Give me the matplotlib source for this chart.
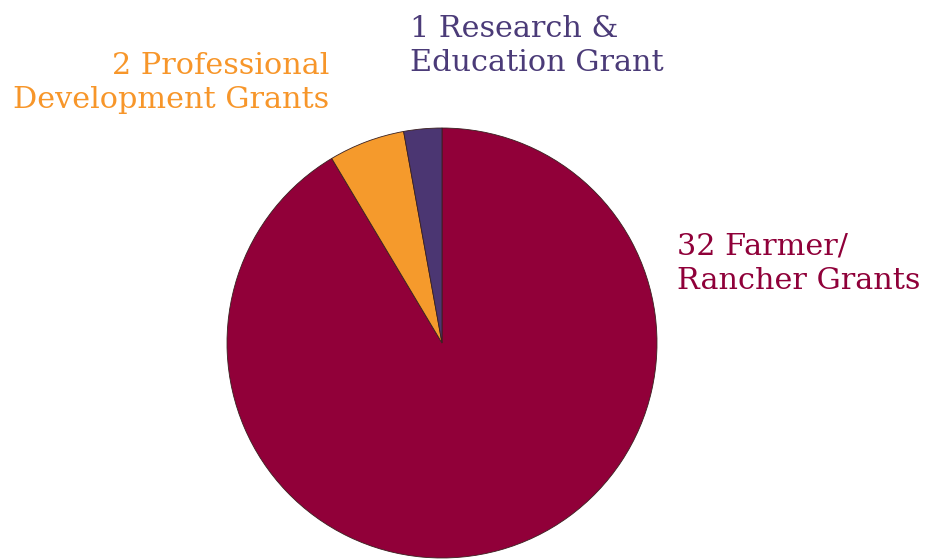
import matplotlib
matplotlib.use('Agg')
import matplotlib.pyplot as plt

labels = ['32 Farmer/\nRancher Grants', '2 Professional\nDevelopment Grants', '1 Research &\nEducation Grant']
counts = [32, 2, 1]
colors = ['#910039', '#F59A2C', '#4B3672']
text_colors = ['#8F0039', '#F7962A', '#4B3B78']

W, H = 935, 559
fig = plt.figure(figsize=(W / 100, H / 100), dpi=100)
ax = fig.add_axes([0, 0, 1, 1])

ax.pie(counts, colors=colors, startangle=90, counterclock=False,
       center=(442, H - 343), radius=215, frame=True,
       wedgeprops=dict(edgecolor='#3a2020', linewidth=0.6))
ax.set_xlim(0, W)
ax.set_ylim(0, H)
ax.set_aspect('equal')
ax.axis('off')

font = dict(family='DejaVu Serif', fontsize=21.8, linespacing=1.3)
ax.text(677, H - 264, labels[0], color=text_colors[0], ha='left', va='center', **font)
ax.text(329, H - 83, labels[1], color=text_colors[1], ha='right', va='center', multialignment='right', **font)
ax.text(410, H - 46, labels[2], color=text_colors[2], ha='left', va='center', **font)

fig.savefig('out.png', dpi=100)
